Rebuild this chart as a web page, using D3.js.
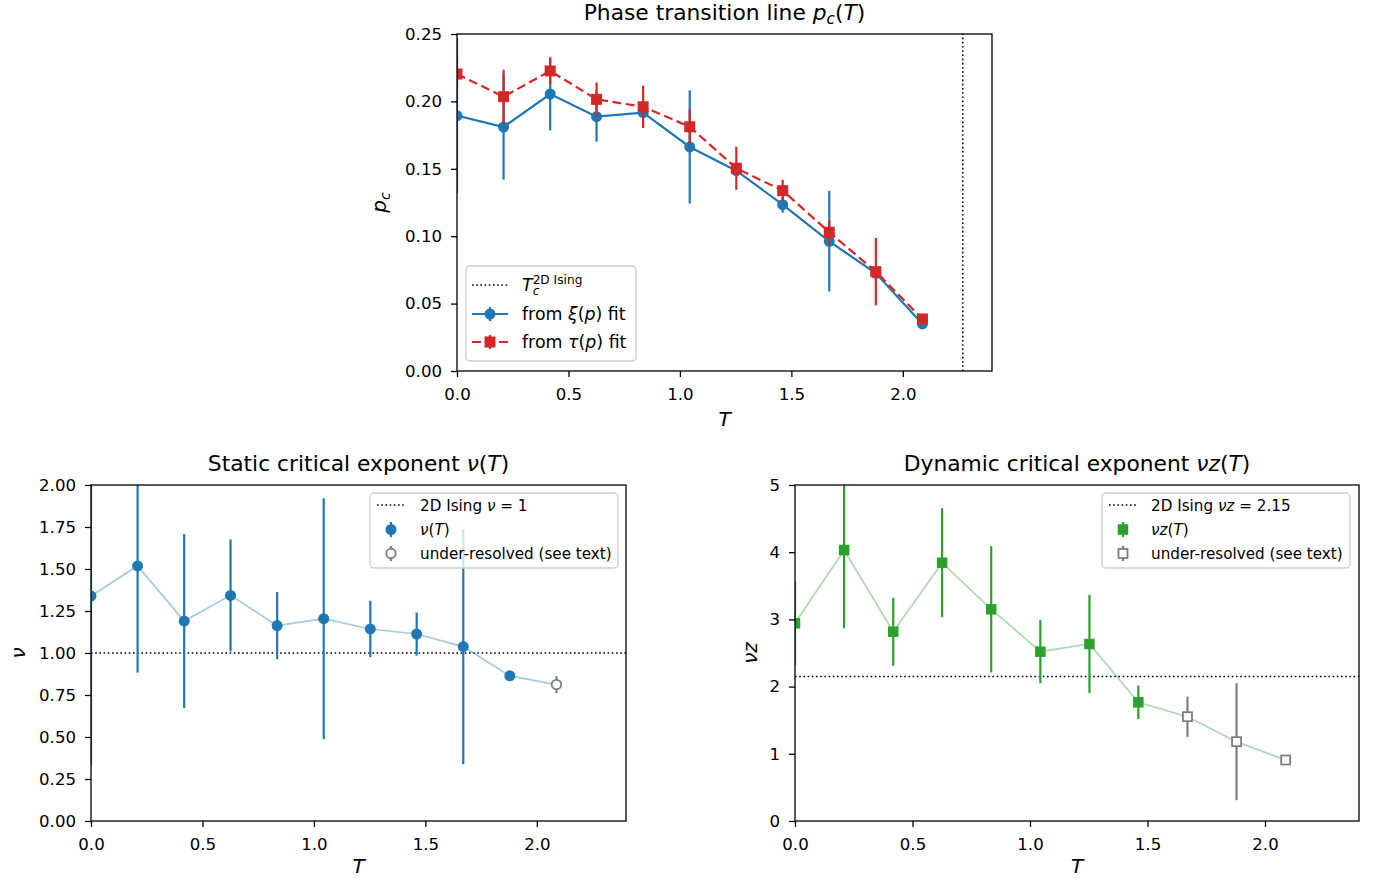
<!DOCTYPE html>
<html><head><meta charset="utf-8">
<script src="https://cdn.jsdelivr.net/npm/d3@7"></script>
<style>
body{margin:0;background:#fff}
text{font-family:"DejaVu Sans",sans-serif;fill:#000}
</style>
</head><body>
<svg id="c" width="1383" height="879" xmlns="http://www.w3.org/2000/svg"></svg>
<script>
// ---------------- data ----------------
const T = [0, 0.209, 0.418, 0.626, 0.835, 1.044, 1.253, 1.461, 1.670, 1.879, 2.088];
const TcIsing = 2.269;
const pcXi    = [0.1894, 0.1810, 0.2055, 0.1887, 0.1916, 0.1662, 0.1486, 0.1234, 0.0962, 0.0725, 0.0349];
const pcXiErr = [0.0576, 0.0390, 0.0270, 0.0186, 0.0030, 0.0420, 0.0040, 0.0060, 0.0373, 0.0030, 0.0020];
const pcTau    = [0.2203, 0.2035, 0.2226, 0.2015, 0.1960, 0.1812, 0.1504, 0.1338, 0.1029, 0.0737, 0.0386];
const pcTauErr = [0.0120, 0.0200, 0.0100, 0.0125, 0.0157, 0.0130, 0.0160, 0.0080, 0.0090, 0.0250, 0.0020];
const nu    = [1.339, 1.518, 1.190, 1.343, 1.163, 1.204, 1.143, 1.113, 1.038, 0.864, 0.812];
const nuErr = [1.006, 0.635, 0.518, 0.333, 0.200, 0.717, 0.168, 0.128, 0.700, 0.010, 0.050];
const nuResolved = [true, true, true, true, true, true, true, true, true, true, false];
const nuIsing = 1;
const nuz    = [2.942, 4.033, 2.817, 3.844, 3.150, 2.520, 2.634, 1.766, 1.552, 1.180, 0.908];
const nuzErr = [0.620, 1.165, 0.506, 0.810, 0.940, 0.470, 0.730, 0.250, 0.300, 0.870, 0.000];
const nuzResolved = [true, true, true, true, true, true, true, true, false, false, false];
const nuzIsing = 2.15;
const xTicks = [0, 0.5, 1.0, 1.5, 2.0];
const pcTicks = [0, 0.05, 0.10, 0.15, 0.20, 0.25];
const nuTicks = [0, 0.25, 0.5, 0.75, 1.0, 1.25, 1.5, 1.75, 2.0];
const nuzTicks = [0, 1, 2, 3, 4, 5];

// ---------------- style ----------------
const BLUE = "#1f77b4", RED = "#d62728", GREEN = "#2ca02c", GRAY = "#7f7f7f";
const FS_TICK = 16.6, FS_TITLE = 21.8, FS_LAB = 20;

const svg = d3.select("#c");

function rich(t, parts, fs) {
  let shift = 0, lastW = 0;
  parts.forEach(p => {
    const str = p[0], f = p[1] || [];
    const ts = t.append("tspan").text(str);
    let target = 0, size = fs;
    if (f.includes("sub")) { target = 0.22 * fs; size = fs * 0.7; }
    if (f.includes("sup")) { target = -0.42 * fs; size = fs * 0.7; }
    ts.attr("dy", target - shift).attr("font-size", size);
    if (f.includes("i")) ts.attr("font-style", "italic");
    if (f.includes("back")) ts.attr("dx", -lastW);
    lastW = ts.node().getComputedTextLength();
    shift = target;
  });
  return t;
}

function panel(o) {
  const g = svg.append("g");
  const x = d3.scaleLinear().domain([0, 2.4]).range([o.x0, o.x1]);
  const y = d3.scaleLinear().domain(o.ydom).range([o.y1, o.y0]);
  const id = "clip" + o.id;
  svg.append("clipPath").attr("id", id).append("rect")
    .attr("x", o.x0).attr("y", o.y0).attr("width", o.x1 - o.x0).attr("height", o.y1 - o.y0);
  const plot = g.append("g").attr("clip-path", `url(#${id})`);

  const ax = g.append("g").attr("transform", `translate(0,${o.y1})`)
    .call(d3.axisBottom(x).tickValues(xTicks).tickFormat(d3.format(".1f")).tickSize(6).tickPadding(11.2));
  const ay = g.append("g").attr("transform", `translate(${o.x0},0)`)
    .call(d3.axisLeft(y).tickValues(o.yticks).tickFormat(d3.format(o.yfmt)).tickSize(6).tickPadding(9));
  [ax, ay].forEach(a => {
    a.select(".domain").remove();
    a.selectAll(".tick line").attr("stroke", "#000").attr("stroke-width", 1.3);
    a.selectAll(".tick text").attr("font-size", FS_TICK).attr("font-family", "DejaVu Sans").attr("fill", "#000");
  });
  g.append("rect").attr("x", o.x0).attr("y", o.y0).attr("width", o.x1 - o.x0).attr("height", o.y1 - o.y0)
    .attr("fill", "none").attr("stroke", "#000").attr("stroke-width", 1.3);

  rich(g.append("text").attr("x", (o.x0 + o.x1) / 2).attr("y", o.y0 - 14.5).attr("text-anchor", "middle"), o.title, FS_TITLE);
  rich(g.append("text").attr("x", (o.x0 + o.x1) / 2).attr("y", o.y1 + o.xlabOff).attr("text-anchor", "middle"), [["T", ["i"]]], FS_LAB);
  rich(g.append("text").attr("transform", `translate(${o.ylabX},${(o.y0 + o.y1) / 2}) rotate(-90)`).attr("text-anchor", "middle"), o.ylab, FS_LAB);
  return { g, plot, x, y };
}

function errbars(p, xs, ys, es, color, w) {
  p.plot.append("g").selectAll("line").data(xs).join("line")
    .attr("x1", (d) => p.x(d)).attr("x2", (d) => p.x(d))
    .attr("y1", (d, i) => p.y(ys[i] - es[i])).attr("y2", (d, i) => p.y(ys[i] + es[i]))
    .attr("stroke", typeof color === "function" ? color : () => color).attr("stroke-width", w);
}

function marker(sel, shape, cx, cy, s, fill, stroke, sw) {
  if (shape === "circle") {
    return sel.append("circle").attr("cx", cx).attr("cy", cy).attr("r", s / 2)
      .attr("fill", fill).attr("stroke", stroke).attr("stroke-width", sw);
  }
  return sel.append("rect").attr("x", cx - s / 2).attr("y", cy - s / 2).attr("width", s).attr("height", s)
    .attr("fill", fill).attr("stroke", stroke).attr("stroke-width", sw);
}

function legendBox(g, x, y, w, h) {
  g.append("rect").attr("x", x).attr("y", y).attr("width", w).attr("height", h).attr("rx", 4)
    .attr("fill", "#fff").attr("fill-opacity", 0.8).attr("stroke", "#cccccc").attr("stroke-width", 1.3);
}

// ================= TOP: p_c(T) =================
(function () {
  const p = panel({ id: "a", x0: 457, x1: 992, y0: 34, y1: 371, ydom: [0, 0.25], yticks: pcTicks, yfmt: ".2f",
    title: [["Phase transition line "], ["p", ["i"]], ["c", ["i", "sub"]], ["("], ["T", ["i"]], [")"]],
    ylab: [["p", ["i"]], ["c", ["i", "sub"]]], ylabX: 386, xlabOff: 55 });

  p.plot.append("line").attr("x1", p.x(TcIsing)).attr("x2", p.x(TcIsing)).attr("y1", p.y(0)).attr("y2", p.y(0.25))
    .attr("stroke", "#000").attr("stroke-width", 1.5).attr("stroke-dasharray", "1.6,2.6");

  const line = d3.line().x((d, i) => p.x(T[i]));
  p.plot.append("path").datum(pcXi).attr("d", line.y(d => p.y(d))).attr("fill", "none")
    .attr("stroke", BLUE).attr("stroke-width", 2.2);
  errbars(p, T, pcXi, pcXiErr, BLUE, 2.2);
  T.forEach((t, i) => marker(p.plot, "circle", p.x(t), p.y(pcXi[i]), 11, BLUE, BLUE, 0));
  p.plot.append("path").datum(pcTau).attr("d", line.y(d => p.y(d))).attr("fill", "none")
    .attr("stroke", RED).attr("stroke-width", 2.2).attr("stroke-dasharray", "9,4.5");
  errbars(p, T, pcTau, pcTauErr, RED, 2.2);
  T.forEach((t, i) => marker(p.plot, "rect", p.x(t), p.y(pcTau[i]), 11, RED, RED, 0));

  const L = p.g.append("g");
  legendBox(L, 466, 266, 170, 95);
  const sx0 = 472, sx1 = 508, sc = 490, tx = 522, lf = 17.4;
  L.append("line").attr("x1", sx0).attr("x2", sx1).attr("y1", 285).attr("y2", 285)
    .attr("stroke", "#000").attr("stroke-width", 1.5).attr("stroke-dasharray", "1.6,2.6");
  rich(L.append("text").attr("x", tx).attr("y", 291), [["T", ["i"]], ["c", ["i", "sub"]], ["2D Ising", ["sup", "back"]]], lf);
  L.append("line").attr("x1", sx0).attr("x2", sx1).attr("y1", 314).attr("y2", 314).attr("stroke", BLUE).attr("stroke-width", 2.2);
  L.append("line").attr("x1", sc).attr("x2", sc).attr("y1", 307).attr("y2", 321).attr("stroke", BLUE).attr("stroke-width", 2.2);
  marker(L, "circle", sc, 314, 11, BLUE, BLUE, 0);
  rich(L.append("text").attr("x", tx).attr("y", 320), [["from "], ["ξ", ["i"]], ["("], ["p", ["i"]], [") fit"]], lf);
  L.append("line").attr("x1", sx0).attr("x2", sx1).attr("y1", 342).attr("y2", 342).attr("stroke", RED).attr("stroke-width", 2.2)
    .attr("stroke-dasharray", "9,4.5");
  L.append("line").attr("x1", sc).attr("x2", sc).attr("y1", 335).attr("y2", 349).attr("stroke", RED).attr("stroke-width", 2.2);
  marker(L, "rect", sc, 342, 11, RED, RED, 0);
  rich(L.append("text").attr("x", tx).attr("y", 348), [["from "], ["τ", ["i"]], ["("], ["p", ["i"]], [") fit"]], lf);
})();

// ================= BOTTOM LEFT: nu(T) =================
(function () {
  const p = panel({ id: "b", x0: 91, x1: 626, y0: 485, y1: 821, ydom: [0, 2], yticks: nuTicks, yfmt: ".2f",
    title: [["Static critical exponent "], ["ν", ["i"]], ["("], ["T", ["i"]], [")"]],
    ylab: [["ν", ["i"]]], ylabX: 25, xlabOff: 52 });

  p.plot.append("line").attr("x1", p.x(0)).attr("x2", p.x(2.4)).attr("y1", p.y(nuIsing)).attr("y2", p.y(nuIsing))
    .attr("stroke", "#000").attr("stroke-width", 1.4).attr("stroke-dasharray", "1.6,2.6");
  p.plot.append("path").datum(nu).attr("d", d3.line().x((d, i) => p.x(T[i])).y(d => p.y(d)))
    .attr("fill", "none").attr("stroke", BLUE).attr("stroke-opacity", 0.4).attr("stroke-width", 1.7);
  errbars(p, T, nu, nuErr, (d, i) => nuResolved[i] ? BLUE : GRAY, 2.2);
  T.forEach((t, i) => {
    if (nuResolved[i]) marker(p.plot, "circle", p.x(t), p.y(nu[i]), 11, BLUE, BLUE, 0);
    else marker(p.plot, "circle", p.x(t), p.y(nu[i]), 9.5, "#fff", GRAY, 1.8);
  });

  const L = p.g.append("g");
  legendBox(L, 370, 493, 248, 75);
  const sx0 = 377, sx1 = 405, sc = 391, tx = 420, lf = 15.2;
  L.append("line").attr("x1", sx0).attr("x2", sx1).attr("y1", 505).attr("y2", 505)
    .attr("stroke", "#000").attr("stroke-width", 1.4).attr("stroke-dasharray", "1.6,2.6");
  rich(L.append("text").attr("x", tx).attr("y", 510.5), [["2D Ising "], ["ν", ["i"]], [" = 1"]], lf);
  L.append("line").attr("x1", sc).attr("x2", sc).attr("y1", 522).attr("y2", 537).attr("stroke", BLUE).attr("stroke-width", 2.2);
  marker(L, "circle", sc, 529.5, 11, BLUE, BLUE, 0);
  rich(L.append("text").attr("x", tx).attr("y", 535), [["ν", ["i"]], ["("], ["T", ["i"]], [")"]], lf);
  L.append("line").attr("x1", sc).attr("x2", sc).attr("y1", 546).attr("y2", 561).attr("stroke", GRAY).attr("stroke-width", 2.2);
  marker(L, "circle", sc, 553.5, 9.5, "#fff", GRAY, 1.8);
  rich(L.append("text").attr("x", tx).attr("y", 559), [["under-resolved (see text)"]], lf);
})();

// ================= BOTTOM RIGHT: nu z(T) =================
(function () {
  const p = panel({ id: "c", x0: 795, x1: 1359, y0: 485, y1: 821, ydom: [0, 5], yticks: nuzTicks, yfmt: "d",
    title: [["Dynamic critical exponent "], ["νz", ["i"]], ["("], ["T", ["i"]], [")"]],
    ylab: [["νz", ["i"]]], ylabX: 757, xlabOff: 52 });

  p.plot.append("line").attr("x1", p.x(0)).attr("x2", p.x(2.4)).attr("y1", p.y(nuzIsing)).attr("y2", p.y(nuzIsing))
    .attr("stroke", "#000").attr("stroke-width", 1.4).attr("stroke-dasharray", "1.6,2.6");
  p.plot.append("path").datum(nuz).attr("d", d3.line().x((d, i) => p.x(T[i])).y(d => p.y(d)))
    .attr("fill", "none").attr("stroke", GREEN).attr("stroke-opacity", 0.4).attr("stroke-width", 1.7);
  errbars(p, T, nuz, nuzErr, (d, i) => nuzResolved[i] ? GREEN : GRAY, 2.2);
  T.forEach((t, i) => {
    if (nuzResolved[i]) marker(p.plot, "rect", p.x(t), p.y(nuz[i]), 10.5, GREEN, GREEN, 0);
    else marker(p.plot, "rect", p.x(t), p.y(nuz[i]), 9, "#fff", GRAY, 1.8);
  });

  const L = p.g.append("g");
  legendBox(L, 1102, 493, 248, 75);
  const sx0 = 1109, sx1 = 1137, sc = 1123, tx = 1151, lf = 15.2;
  L.append("line").attr("x1", sx0).attr("x2", sx1).attr("y1", 505).attr("y2", 505)
    .attr("stroke", "#000").attr("stroke-width", 1.4).attr("stroke-dasharray", "1.6,2.6");
  rich(L.append("text").attr("x", tx).attr("y", 510.5), [["2D Ising "], ["νz", ["i"]], [" = 2.15"]], lf);
  L.append("line").attr("x1", sc).attr("x2", sc).attr("y1", 522).attr("y2", 537).attr("stroke", GREEN).attr("stroke-width", 2.2);
  marker(L, "rect", sc, 529.5, 10.5, GREEN, GREEN, 0);
  rich(L.append("text").attr("x", tx).attr("y", 535), [["νz", ["i"]], ["("], ["T", ["i"]], [")"]], lf);
  L.append("line").attr("x1", sc).attr("x2", sc).attr("y1", 546).attr("y2", 561).attr("stroke", GRAY).attr("stroke-width", 2.2);
  marker(L, "rect", sc, 553.5, 9, "#fff", GRAY, 1.8);
  rich(L.append("text").attr("x", tx).attr("y", 559), [["under-resolved (see text)"]], lf);
})();
</script>
</body></html>
